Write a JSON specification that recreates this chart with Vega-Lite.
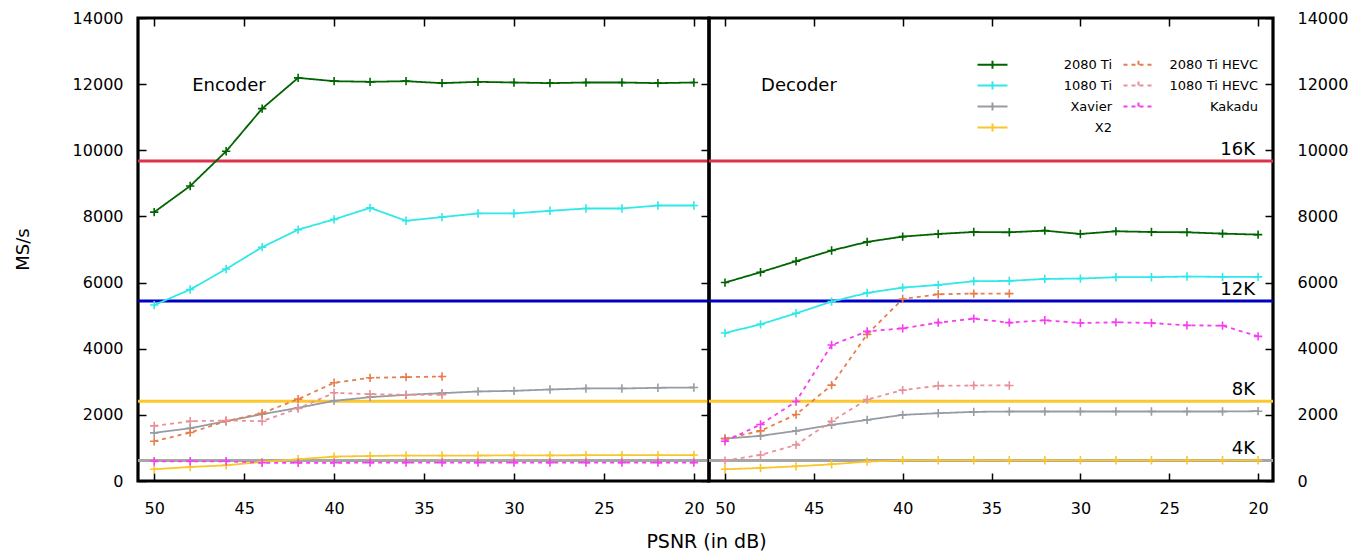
{
 "$schema": "https://vega.github.io/schema/vega-lite/v6.json",
 "autosize": {"type": "pad"},
 "padding": {"left": 12, "top": 8, "right": 0, "bottom": 0},
 "background": "white",
 "spacing": 0,
 "bounds": "flush",
 "config": {
  "font": "DejaVu Sans",
  "view": {"stroke": "black", "strokeWidth": 3.2},
  "axis": {"domain": false, "grid": false, "labelFontSize": 16, "labelColor": "black", "tickColor": "black", "tickWidth": 1.5, "tickSize": -8, "titleFontSize": 18, "titleFontWeight": "normal", "titleColor": "black", "format": "d"}
 },
 "datasets": {
  "refs": [
   {"k": "16K", "v": 9677},
   {"k": "12K", "v": 5440},
   {"k": "8K", "v": 2415},
   {"k": "4K", "v": 620}
  ],
  "s": [
   {"p":"E","s":"2080 Ti","x":50,"v":8130},{"p":"E","s":"2080 Ti","x":48,"v":8920},{"p":"E","s":"2080 Ti","x":46,"v":9970},{"p":"E","s":"2080 Ti","x":44,"v":11260},{"p":"E","s":"2080 Ti","x":42,"v":12190},{"p":"E","s":"2080 Ti","x":40,"v":12090},{"p":"E","s":"2080 Ti","x":38,"v":12070},{"p":"E","s":"2080 Ti","x":36,"v":12090},{"p":"E","s":"2080 Ti","x":34,"v":12030},{"p":"E","s":"2080 Ti","x":32,"v":12070},{"p":"E","s":"2080 Ti","x":30,"v":12050},{"p":"E","s":"2080 Ti","x":28,"v":12030},{"p":"E","s":"2080 Ti","x":26,"v":12050},{"p":"E","s":"2080 Ti","x":24,"v":12050},{"p":"E","s":"2080 Ti","x":22,"v":12030},{"p":"E","s":"2080 Ti","x":20,"v":12050},
   {"p":"E","s":"1080 Ti","x":50,"v":5320},{"p":"E","s":"1080 Ti","x":48,"v":5790},{"p":"E","s":"1080 Ti","x":46,"v":6410},{"p":"E","s":"1080 Ti","x":44,"v":7070},{"p":"E","s":"1080 Ti","x":42,"v":7600},{"p":"E","s":"1080 Ti","x":40,"v":7910},{"p":"E","s":"1080 Ti","x":38,"v":8260},{"p":"E","s":"1080 Ti","x":36,"v":7870},{"p":"E","s":"1080 Ti","x":34,"v":7980},{"p":"E","s":"1080 Ti","x":32,"v":8090},{"p":"E","s":"1080 Ti","x":30,"v":8090},{"p":"E","s":"1080 Ti","x":28,"v":8170},{"p":"E","s":"1080 Ti","x":26,"v":8240},{"p":"E","s":"1080 Ti","x":24,"v":8240},{"p":"E","s":"1080 Ti","x":22,"v":8330},{"p":"E","s":"1080 Ti","x":20,"v":8330},
   {"p":"E","s":"Xavier","x":50,"v":1455},{"p":"E","s":"Xavier","x":48,"v":1596},{"p":"E","s":"Xavier","x":46,"v":1808},{"p":"E","s":"Xavier","x":44,"v":2020},{"p":"E","s":"Xavier","x":42,"v":2212},{"p":"E","s":"Xavier","x":40,"v":2424},{"p":"E","s":"Xavier","x":38,"v":2535},{"p":"E","s":"Xavier","x":36,"v":2606},{"p":"E","s":"Xavier","x":34,"v":2656},{"p":"E","s":"Xavier","x":32,"v":2707},{"p":"E","s":"Xavier","x":30,"v":2727},{"p":"E","s":"Xavier","x":28,"v":2767},{"p":"E","s":"Xavier","x":26,"v":2798},{"p":"E","s":"Xavier","x":24,"v":2798},{"p":"E","s":"Xavier","x":22,"v":2818},{"p":"E","s":"Xavier","x":20,"v":2828},
   {"p":"E","s":"X2","x":50,"v":354},{"p":"E","s":"X2","x":48,"v":424},{"p":"E","s":"X2","x":46,"v":475},{"p":"E","s":"X2","x":44,"v":576},{"p":"E","s":"X2","x":42,"v":657},{"p":"E","s":"X2","x":40,"v":737},{"p":"E","s":"X2","x":38,"v":758},{"p":"E","s":"X2","x":36,"v":770},{"p":"E","s":"X2","x":34,"v":770},{"p":"E","s":"X2","x":32,"v":770},{"p":"E","s":"X2","x":30,"v":775},{"p":"E","s":"X2","x":28,"v":775},{"p":"E","s":"X2","x":26,"v":780},{"p":"E","s":"X2","x":24,"v":780},{"p":"E","s":"X2","x":22,"v":780},{"p":"E","s":"X2","x":20,"v":785},
   {"p":"E","s":"2080 Ti HEVC","x":50,"v":1200},{"p":"E","s":"2080 Ti HEVC","x":48,"v":1465},{"p":"E","s":"2080 Ti HEVC","x":46,"v":1808},{"p":"E","s":"2080 Ti HEVC","x":44,"v":2050},{"p":"E","s":"2080 Ti HEVC","x":42,"v":2475},{"p":"E","s":"2080 Ti HEVC","x":40,"v":2970},{"p":"E","s":"2080 Ti HEVC","x":38,"v":3120},{"p":"E","s":"2080 Ti HEVC","x":36,"v":3140},{"p":"E","s":"2080 Ti HEVC","x":34,"v":3160},
   {"p":"E","s":"1080 Ti HEVC","x":50,"v":1667},{"p":"E","s":"1080 Ti HEVC","x":48,"v":1808},{"p":"E","s":"1080 Ti HEVC","x":46,"v":1830},{"p":"E","s":"1080 Ti HEVC","x":44,"v":1808},{"p":"E","s":"1080 Ti HEVC","x":42,"v":2192},{"p":"E","s":"1080 Ti HEVC","x":40,"v":2667},{"p":"E","s":"1080 Ti HEVC","x":38,"v":2626},{"p":"E","s":"1080 Ti HEVC","x":36,"v":2606},{"p":"E","s":"1080 Ti HEVC","x":34,"v":2606},
   {"p":"E","s":"Kakadu","x":50,"v":596},{"p":"E","s":"Kakadu","x":48,"v":596},{"p":"E","s":"Kakadu","x":46,"v":596},{"p":"E","s":"Kakadu","x":44,"v":550},{"p":"E","s":"Kakadu","x":42,"v":550},{"p":"E","s":"Kakadu","x":40,"v":550},{"p":"E","s":"Kakadu","x":38,"v":555},{"p":"E","s":"Kakadu","x":36,"v":555},{"p":"E","s":"Kakadu","x":34,"v":555},{"p":"E","s":"Kakadu","x":32,"v":555},{"p":"E","s":"Kakadu","x":30,"v":555},{"p":"E","s":"Kakadu","x":28,"v":555},{"p":"E","s":"Kakadu","x":26,"v":555},{"p":"E","s":"Kakadu","x":24,"v":555},{"p":"E","s":"Kakadu","x":22,"v":555},{"p":"E","s":"Kakadu","x":20,"v":555},
   {"p":"D","s":"2080 Ti","x":50,"v":6000},{"p":"D","s":"2080 Ti","x":48,"v":6313},{"p":"D","s":"2080 Ti","x":46,"v":6646},{"p":"D","s":"2080 Ti","x":44,"v":6970},{"p":"D","s":"2080 Ti","x":42,"v":7230},{"p":"D","s":"2080 Ti","x":40,"v":7390},{"p":"D","s":"2080 Ti","x":38,"v":7470},{"p":"D","s":"2080 Ti","x":36,"v":7530},{"p":"D","s":"2080 Ti","x":34,"v":7520},{"p":"D","s":"2080 Ti","x":32,"v":7570},{"p":"D","s":"2080 Ti","x":30,"v":7470},{"p":"D","s":"2080 Ti","x":28,"v":7550},{"p":"D","s":"2080 Ti","x":26,"v":7530},{"p":"D","s":"2080 Ti","x":24,"v":7520},{"p":"D","s":"2080 Ti","x":22,"v":7480},{"p":"D","s":"2080 Ti","x":20,"v":7450},
   {"p":"D","s":"1080 Ti","x":50,"v":4475},{"p":"D","s":"1080 Ti","x":48,"v":4737},{"p":"D","s":"1080 Ti","x":46,"v":5071},{"p":"D","s":"1080 Ti","x":44,"v":5424},{"p":"D","s":"1080 Ti","x":42,"v":5687},{"p":"D","s":"1080 Ti","x":40,"v":5848},{"p":"D","s":"1080 Ti","x":38,"v":5929},{"p":"D","s":"1080 Ti","x":36,"v":6040},{"p":"D","s":"1080 Ti","x":34,"v":6050},{"p":"D","s":"1080 Ti","x":32,"v":6111},{"p":"D","s":"1080 Ti","x":30,"v":6121},{"p":"D","s":"1080 Ti","x":28,"v":6162},{"p":"D","s":"1080 Ti","x":26,"v":6162},{"p":"D","s":"1080 Ti","x":24,"v":6182},{"p":"D","s":"1080 Ti","x":22,"v":6172},{"p":"D","s":"1080 Ti","x":20,"v":6172},
   {"p":"D","s":"Xavier","x":50,"v":1283},{"p":"D","s":"Xavier","x":48,"v":1364},{"p":"D","s":"Xavier","x":46,"v":1515},{"p":"D","s":"Xavier","x":44,"v":1697},{"p":"D","s":"Xavier","x":42,"v":1848},{"p":"D","s":"Xavier","x":40,"v":2000},{"p":"D","s":"Xavier","x":38,"v":2050},{"p":"D","s":"Xavier","x":36,"v":2091},{"p":"D","s":"Xavier","x":34,"v":2101},{"p":"D","s":"Xavier","x":32,"v":2101},{"p":"D","s":"Xavier","x":30,"v":2101},{"p":"D","s":"Xavier","x":28,"v":2101},{"p":"D","s":"Xavier","x":26,"v":2101},{"p":"D","s":"Xavier","x":24,"v":2101},{"p":"D","s":"Xavier","x":22,"v":2101},{"p":"D","s":"Xavier","x":20,"v":2111},
   {"p":"D","s":"X2","x":50,"v":354},{"p":"D","s":"X2","x":48,"v":394},{"p":"D","s":"X2","x":46,"v":444},{"p":"D","s":"X2","x":44,"v":505},{"p":"D","s":"X2","x":42,"v":586},{"p":"D","s":"X2","x":40,"v":626},{"p":"D","s":"X2","x":38,"v":626},{"p":"D","s":"X2","x":36,"v":626},{"p":"D","s":"X2","x":34,"v":626},{"p":"D","s":"X2","x":32,"v":626},{"p":"D","s":"X2","x":30,"v":626},{"p":"D","s":"X2","x":28,"v":626},{"p":"D","s":"X2","x":26,"v":626},{"p":"D","s":"X2","x":24,"v":626},{"p":"D","s":"X2","x":22,"v":626},{"p":"D","s":"X2","x":20,"v":626},
   {"p":"D","s":"2080 Ti HEVC","x":50,"v":1280},{"p":"D","s":"2080 Ti HEVC","x":48,"v":1515},{"p":"D","s":"2080 Ti HEVC","x":46,"v":2010},{"p":"D","s":"2080 Ti HEVC","x":44,"v":2899},{"p":"D","s":"2080 Ti HEVC","x":42,"v":4434},{"p":"D","s":"2080 Ti HEVC","x":40,"v":5505},{"p":"D","s":"2080 Ti HEVC","x":38,"v":5646},{"p":"D","s":"2080 Ti HEVC","x":36,"v":5667},{"p":"D","s":"2080 Ti HEVC","x":34,"v":5667},
   {"p":"D","s":"1080 Ti HEVC","x":50,"v":616},{"p":"D","s":"1080 Ti HEVC","x":48,"v":788},{"p":"D","s":"1080 Ti HEVC","x":46,"v":1091},{"p":"D","s":"1080 Ti HEVC","x":44,"v":1808},{"p":"D","s":"1080 Ti HEVC","x":42,"v":2465},{"p":"D","s":"1080 Ti HEVC","x":40,"v":2747},{"p":"D","s":"1080 Ti HEVC","x":38,"v":2879},{"p":"D","s":"1080 Ti HEVC","x":36,"v":2889},{"p":"D","s":"1080 Ti HEVC","x":34,"v":2889},
   {"p":"D","s":"Kakadu","x":50,"v":1202},{"p":"D","s":"Kakadu","x":48,"v":1707},{"p":"D","s":"Kakadu","x":46,"v":2404},{"p":"D","s":"Kakadu","x":44,"v":4111},{"p":"D","s":"Kakadu","x":42,"v":4525},{"p":"D","s":"Kakadu","x":40,"v":4616},{"p":"D","s":"Kakadu","x":38,"v":4788},{"p":"D","s":"Kakadu","x":36,"v":4909},{"p":"D","s":"Kakadu","x":34,"v":4788},{"p":"D","s":"Kakadu","x":32,"v":4859},{"p":"D","s":"Kakadu","x":30,"v":4778},{"p":"D","s":"Kakadu","x":28,"v":4798},{"p":"D","s":"Kakadu","x":26,"v":4778},{"p":"D","s":"Kakadu","x":24,"v":4707},{"p":"D","s":"Kakadu","x":22,"v":4697},{"p":"D","s":"Kakadu","x":20,"v":4374}
  ]
 },
 "hconcat": [
  {
   "width": 571, "height": 463,
   "layer": [
    {
     "data": {"name": "refs"},
     "mark": {"type": "rule", "strokeWidth": 3},
     "encoding": {
      "y": {"field": "v", "type": "quantitative", "scale": {"domain": [0, 14000], "nice": false}, "axis": {"orient": "left", "values": [0,2000,4000,6000,8000,10000,12000,14000], "title": "MS/s", "labelPadding": 23, "titleX": -115, "titleY": 231, "titleAngle": -90, "titleAlign": "center", "titleBaseline": "middle", "titleFontSize": 18}},
      "stroke": {"field": "k", "type": "nominal", "scale": {"domain": ["16K","12K","8K","4K"], "range": ["#dd3249","#0000c4","#fcc72c","#a6a6a6"]}, "legend": null}
     }
    },
    {
     "data": {"name": "s"},
     "transform": [{"filter": "datum.p === 'E'"}],
     "mark": {"type": "line", "strokeWidth": 1.8},
     "encoding": {
      "x": {"field": "x", "type": "quantitative", "scale": {"domain": [19.16, 50.9], "reverse": true, "nice": false, "zero": false}, "axis": {"orient": "bottom", "values": [50,45,40,35,30,25,20], "title": "PSNR (in dB)", "labelPadding": 27, "titleX": 568, "titleY": 60, "titleAlign": "center", "titleBaseline": "middle", "titleFontSize": 19}},
      "y": {"field": "v", "type": "quantitative", "scale": {"domain": [0, 14000], "nice": false}, "axis": {"orient": "right", "values": [0,2000,4000,6000,8000,10000,12000,14000], "labels": false, "title": null, "minExtent": 0, "maxExtent": 0}},
      "color": {"field": "s", "type": "nominal", "scale": {"domain": ["2080 Ti","2080 Ti HEVC","1080 Ti","1080 Ti HEVC","Xavier","Kakadu","X2"], "range": ["#006400","#e67e4d","#30e8e8","#e8919b","#979ba3","#f83df0","#f9c62b"]},
        "legend": {"title": null, "orient": "none", "legendX": 848, "legendY": 40, "columns": 2, "direction": "horizontal", "labelFontSize": 13, "labelColor": "black", "symbolType": "M-3,0H3M0,-0.8V0.8", "symbolSize": 100, "symbolStrokeWidth": 2, "labelAlign": "right", "labelOffset": 113, "columnPadding": 7, "rowPadding": 4, "padding": 0}},
      "strokeDash": {"field": "s", "type": "nominal", "scale": {"domain": ["2080 Ti","2080 Ti HEVC","1080 Ti","1080 Ti HEVC","Xavier","Kakadu","X2"], "range": [[1,0],[4,4],[1,0],[4,4],[1,0],[4,4],[1,0]]},
        "legend": {"title": null, "orient": "none", "legendX": 848, "legendY": 40, "columns": 2, "direction": "horizontal", "labelFontSize": 13, "labelColor": "black", "symbolType": "M-3,0H3M0,-0.8V0.8", "symbolSize": 100, "symbolStrokeWidth": 2, "labelAlign": "right", "labelOffset": 113, "columnPadding": 7, "rowPadding": 4, "padding": 0}}
     }
    },
    {
     "data": {"name": "s"},
     "transform": [{"filter": "datum.p === 'E'"}],
     "mark": {"type": "point", "shape": "M-1,0H1M0,-1V1", "filled": false, "size": 70, "strokeWidth": 1.6, "opacity": 1},
     "encoding": {
      "x": {"field": "x", "type": "quantitative", "scale": {"domain": [19.16, 50.9], "reverse": true, "nice": false, "zero": false}, "axis": {"orient": "top", "values": [50,45,40,35,30,25,20], "labels": false, "title": null, "minExtent": 0, "maxExtent": 0}},
      "y": {"field": "v", "type": "quantitative", "scale": {"domain": [0, 14000], "nice": false}, "axis": null},
      "color": {"field": "s", "type": "nominal"}
     }
    },
    {
     "data": {"values": [{}]},
     "mark": {"type": "text", "text": "Encoder", "align": "left", "baseline": "middle", "fontSize": 18, "color": "black"},
     "encoding": {
      "x": {"datum": 47.89, "type": "quantitative", "scale": {"domain": [19.16, 50.9], "reverse": true, "nice": false, "zero": false}, "axis": null},
      "y": {"datum": 11950, "type": "quantitative", "scale": {"domain": [0, 14000], "nice": false}, "axis": null}
     }
    }
   ],
   "resolve": {"axis": {"y": "independent", "x": "independent"}}
  },
  {
   "width": 564, "height": 463,
   "layer": [
    {
     "data": {"name": "refs"},
     "mark": {"type": "rule", "strokeWidth": 3},
     "encoding": {
      "y": {"field": "v", "type": "quantitative", "scale": {"domain": [0, 14000], "nice": false}, "axis": {"orient": "right", "values": [0,2000,4000,6000,8000,10000,12000,14000], "title": null, "labelPadding": 32}},
      "stroke": {"field": "k", "type": "nominal", "legend": null}
     }
    },
    {
     "data": {"name": "refs"},
     "mark": {"type": "text", "align": "right", "baseline": "middle", "dy": -11, "fontSize": 18, "color": "black"},
     "encoding": {
      "x": {"datum": 20.17, "type": "quantitative", "scale": {"domain": [19.16, 50.9], "reverse": true, "nice": false, "zero": false}, "axis": null},
      "y": {"field": "v", "type": "quantitative", "scale": {"domain": [0, 14000], "nice": false}, "axis": null},
      "text": {"field": "k"}
     }
    },
    {
     "data": {"name": "s"},
     "transform": [{"filter": "datum.p === 'D'"}],
     "mark": {"type": "line", "strokeWidth": 1.8},
     "encoding": {
      "x": {"field": "x", "type": "quantitative", "scale": {"domain": [19.16, 50.9], "reverse": true, "nice": false, "zero": false}, "axis": {"orient": "bottom", "values": [50,45,40,35,30,25,20], "title": null, "labelPadding": 27}},
      "y": {"field": "v", "type": "quantitative", "scale": {"domain": [0, 14000], "nice": false}, "axis": null},
      "color": {"field": "s", "type": "nominal"},
      "strokeDash": {"field": "s", "type": "nominal"}
     }
    },
    {
     "data": {"name": "s"},
     "transform": [{"filter": "datum.p === 'D'"}],
     "mark": {"type": "point", "shape": "M-1,0H1M0,-1V1", "filled": false, "size": 70, "strokeWidth": 1.6, "opacity": 1},
     "encoding": {
      "x": {"field": "x", "type": "quantitative", "scale": {"domain": [19.16, 50.9], "reverse": true, "nice": false, "zero": false}, "axis": {"orient": "top", "values": [50,45,40,35,30,25,20], "labels": false, "title": null, "minExtent": 0, "maxExtent": 0}},
      "y": {"field": "v", "type": "quantitative", "scale": {"domain": [0, 14000], "nice": false}, "axis": null},
      "color": {"field": "s", "type": "nominal"}
     }
    },
    {
     "data": {"values": [{}]},
     "mark": {"type": "text", "text": "Decoder", "align": "left", "baseline": "middle", "fontSize": 18, "color": "black"},
     "encoding": {
      "x": {"datum": 47.97, "type": "quantitative", "scale": {"domain": [19.16, 50.9], "reverse": true, "nice": false, "zero": false}, "axis": null},
      "y": {"datum": 11950, "type": "quantitative", "scale": {"domain": [0, 14000], "nice": false}, "axis": null}
     }
    }
   ],
   "resolve": {"axis": {"y": "independent", "x": "independent"}}
  }
 ]
}
